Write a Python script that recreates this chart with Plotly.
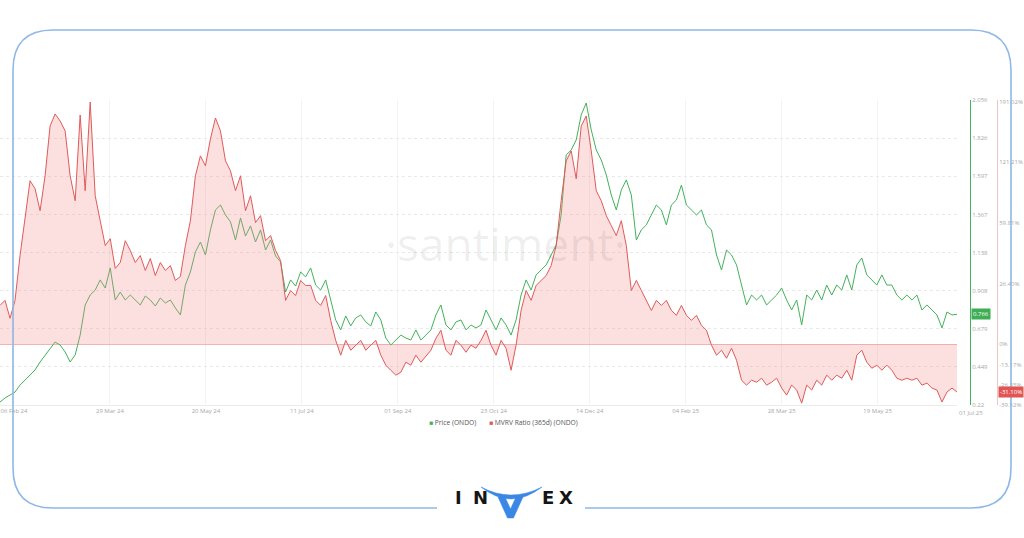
import numpy as np
import pandas as pd
import plotly.graph_objects as go

# ---------------- data ----------------
START_DATE = "2024-01-29 10:00"
END_DATE = "2025-07-01"

PRICE = [
    0.238, 0.262, 0.280, 0.298, 0.340, 0.371, 0.401, 0.431, 0.479, 0.521,
    0.563, 0.599, 0.581, 0.539, 0.479, 0.521, 0.641, 0.822, 0.882, 0.912,
    0.973, 0.924, 1.045, 0.852, 0.900, 0.852, 0.882, 0.852, 0.822, 0.876,
    0.852, 0.816, 0.864, 0.834, 0.852, 0.804, 0.762, 0.942, 1.021, 1.141,
    1.201, 1.123, 1.274, 1.394, 1.424, 1.364, 1.322, 1.213, 1.346, 1.237,
    1.298, 1.201, 1.274, 1.153, 1.213, 1.117, 1.081, 0.900, 0.973, 0.936,
    1.021, 0.991, 1.045, 0.942, 0.912, 0.973, 0.852, 0.732, 0.672, 0.756,
    0.696, 0.744, 0.762, 0.720, 0.696, 0.780, 0.732, 0.623, 0.581, 0.611,
    0.641, 0.623, 0.611, 0.672, 0.611, 0.641, 0.672, 0.762, 0.822, 0.702,
    0.672, 0.720, 0.732, 0.672, 0.702, 0.684, 0.702, 0.792, 0.732, 0.672,
    0.744, 0.702, 0.641, 0.732, 0.882, 0.973, 0.912, 1.003, 1.033, 1.063,
    1.123, 1.183, 1.364, 1.725, 1.755, 1.815, 1.966, 2.038, 1.876, 1.755,
    1.695, 1.605, 1.484, 1.394, 1.514, 1.575, 1.484, 1.213, 1.274, 1.304,
    1.364, 1.424, 1.394, 1.304, 1.424, 1.454, 1.544, 1.424, 1.394, 1.364,
    1.394, 1.304, 1.274, 1.123, 1.033, 1.153, 1.123, 1.063, 0.942, 0.822,
    0.882, 0.852, 0.882, 0.822, 0.852, 0.882, 0.924, 0.852, 0.792, 0.852,
    0.702, 0.882, 0.852, 0.912, 0.852, 0.942, 0.882, 0.942, 0.912, 1.003,
    0.912, 1.063, 1.105, 1.003, 0.973, 0.942, 1.003, 0.942, 0.942, 0.882,
    0.852, 0.882, 0.852, 0.882, 0.792, 0.822, 0.792, 0.762, 0.684, 0.780,
    0.762, 0.766,
]

MVRV_PCT = [
    16.9, 19.1, 11.3, 19.1, 41.8, 67.1, 102.4, 94.3, 72.1, 107.4,
    162.8, 176.6, 168.5, 157.1, 107.4, 82.2, 175.4, 92.3, 190.3, 87.2,
    62.0, 47.3, 51.1, 34.7, 38.0, 50.0, 44.6, 38.0, 41.8, 33.6,
    40.2, 30.8, 38.0, 33.6, 36.3, 28.1, 30.3, 47.3, 62.0, 107.4,
    128.4, 117.5, 147.9, 172.0, 157.1, 122.7, 112.4, 92.3, 107.4, 72.1,
    87.2, 60.0, 67.1, 50.0, 52.8, 44.6, 39.1, 19.1, 23.4, 21.2,
    28.1, 25.6, 25.6, 19.1, 16.9, 21.2, 10.4, 1.7, -7.1, 1.7,
    -3.9, -0.6, 1.7, -3.9, -0.6, 1.7, -7.1, -13.6, -16.9, -20.1,
    -18.2, -11.7, -13.6, -7.1, -11.7, -7.8, -3.9, 2.6, 6.1, -3.9,
    -7.1, 1.7, -0.6, -5.2, -0.6, -2.6, 1.7, 6.1, -0.6, -7.1,
    1.7, -2.6, -16.9, -0.6, 14.7, 23.4, 19.1, 25.6, 28.1, 30.8,
    36.3, 47.3, 82.2, 122.7, 134.2, 104.4, 162.8, 174.3, 134.2, 92.3,
    82.2, 67.1, 58.3, 52.8, 62.0, 47.3, 23.4, 28.1, 23.4, 19.1,
    14.7, 19.1, 16.9, 19.1, 14.7, 12.6, 16.9, 12.6, 10.4, 12.6,
    8.2, 6.1, -0.6, -7.1, -3.9, -9.1, -2.6, -10.4, -23.4, -26.6,
    -23.4, -24.7, -22.1, -26.6, -24.7, -22.1, -28.5, -33.1, -26.6, -29.8,
    -38.3, -26.6, -29.8, -23.4, -26.6, -20.1, -23.4, -20.1, -22.1, -16.9,
    -23.4, -7.1, -3.9, -11.7, -15.6, -13.6, -16.9, -13.6, -16.9, -22.1,
    -23.4, -22.1, -23.4, -22.1, -26.6, -25.3, -28.5, -29.8, -37.6, -31.1,
    -28.5, -31.1,
]

DATES = pd.date_range(START_DATE, END_DATE, periods=len(PRICE))

X_TICK_DATES = ["2024-02-06", "2024-03-29", "2024-05-20", "2024-07-11", "2024-09-01",
                "2024-10-23", "2024-12-14", "2025-02-04", "2025-03-28", "2025-05-19"]
X_TICK_LABELS = ["06 Feb 24", "29 Mar 24", "20 May 24", "11 Jul 24", "01 Sep 24",
                 "23 Oct 24", "14 Dec 24", "04 Feb 25", "28 Mar 25", "19 May 25"]
LAST_DATE_LABEL = "01 Jul 25"

PRICE_TICKS = [0.22, 0.449, 0.679, 0.908, 1.138, 1.367, 1.597, 1.826, 2.056]
PRICE_TICK_LABELS = ["0.22", "0.449", "0.679", "0.908", "1.138", "1.367", "1.597", "1.826", "2.056"]

# MVRV axis uses a non-linear (compressed) scale: tick values and their axis units
MVRV_TICKS_PCT = [-39.52, -26.35, -13.17, 0.0, 26.40, 59.81, 121.21, 191.02]
MVRV_TICK_UNITS = [-3, -2, -1, 0, 3, 6, 9, 12]
MVRV_TICK_LABELS = ["-39.52%", "-26.35%", "-13.17%", "0%", "26.40%", "59.81%", "121.21%", "191.02%"]

# ---------------- styling ----------------
W, H = 1024, 538
PLOT_TOP, PLOT_BOTTOM, PLOT_RIGHT = 100, 405, 957
GREEN = "#43b25a"
RED = "#e05a5a"
BLUE_FRAME = "#8fb8e6"
LOGO_BLUE = "#3a87e6"

mvrv_axis_vals = np.interp(MVRV_PCT, MVRV_TICKS_PCT, MVRV_TICK_UNITS)


def px(x):
    return x / W


def py(y):
    return (PLOT_BOTTOM - y) / (PLOT_BOTTOM - PLOT_TOP)


fig = go.Figure()

fig.add_trace(go.Scatter(
    x=DATES, y=mvrv_axis_vals, yaxis="y2", mode="lines",
    line=dict(color=RED, width=1), fill="tozeroy",
    fillcolor="rgba(246,140,140,0.28)", name="MVRV Ratio (365d) (ONDO)",
    showlegend=False, hoverinfo="skip",
))
fig.add_trace(go.Scatter(
    x=DATES, y=PRICE, yaxis="y", mode="lines",
    line=dict(color=GREEN, width=1), name="Price (ONDO)",
    showlegend=False, hoverinfo="skip",
))

tick_font = dict(family="Open Sans, Arial", size=6, color="#a8a8a8")

fig.update_layout(
    width=W, height=H,
    margin=dict(l=0, r=0, t=PLOT_TOP, b=H - PLOT_BOTTOM),
    paper_bgcolor="white", plot_bgcolor="white",
    hovermode=False,
    xaxis=dict(
        domain=[0, PLOT_RIGHT / W],
        range=[DATES[0], DATES[-1]],
        tickvals=pd.to_datetime(X_TICK_DATES), ticktext=X_TICK_LABELS,
        tickfont=tick_font, ticks="", ticklabeloverflow="allow",
        showgrid=True, gridcolor="#f3f3f3",
        showline=True, linecolor="#ececec", linewidth=1, zeroline=False,
    ),
    yaxis=dict(
        anchor="free", position=970 / W, side="right",
        range=[PRICE_TICKS[0], PRICE_TICKS[-1]],
        tickvals=PRICE_TICKS, ticktext=PRICE_TICK_LABELS,
        tickfont=tick_font, ticks="", ticklabeloverflow="allow",
        showline=True, linecolor=GREEN, linewidth=1,
        showgrid=True, gridcolor="#e9e9e9", griddash="dot", zeroline=False,
    ),
    yaxis2=dict(
        overlaying="y", anchor="free", position=997 / W, side="right",
        range=[-3.0, 12.07],
        tickvals=MVRV_TICK_UNITS, ticktext=MVRV_TICK_LABELS,
        tickfont=tick_font, ticks="", ticklabeloverflow="allow",
        showline=True, linecolor="#eec4c4", linewidth=1,
        showgrid=False, zeroline=True, zerolinecolor="#f0b8b8", zerolinewidth=1,
    ),
)

annotations = []
# watermark
annotations.append(dict(
    text="·santiment·", x=px(505), y=py(243), xref="paper", yref="paper",
    showarrow=False, font=dict(family="Open Sans", size=46, color="rgba(0,0,0,0.07)"),
))
# last date label
annotations.append(dict(
    text=LAST_DATE_LABEL, x=DATES[-1], y=0, xref="x", yref="paper",
    xanchor="left", yanchor="top", yshift=-2, showarrow=False, font=tick_font,
))
# current value badges
annotations.append(dict(
    text=f"{PRICE[-1]:.3f}", x=971 / W, y=PRICE[-1], xref="paper", yref="y",
    xanchor="left", showarrow=False, bgcolor="#3fae55",
    font=dict(family="Open Sans", size=6, color="white"), borderpad=1,
))
annotations.append(dict(
    text=f"{MVRV_PCT[-1]:.2f}%", x=998 / W, y=mvrv_axis_vals[-1], xref="paper", yref="y2",
    xanchor="left", showarrow=False, bgcolor="#e25555",
    font=dict(family="Open Sans", size=6, color="white"), borderpad=1,
))
# legend
annotations.append(dict(
    text=f"<span style='color:{GREEN}'>■</span> Price (ONDO)",
    x=px(427), y=py(429), xref="paper", yref="paper", xanchor="left", showarrow=False,
    font=dict(family="Open Sans", size=6.7, color="#555"),
))
annotations.append(dict(
    text=f"<span style='color:{RED}'>■</span> MVRV Ratio (365d) (ONDO)",
    x=px(487), y=py(429), xref="paper", yref="paper", xanchor="left", showarrow=False,
    font=dict(family="Open Sans", size=6.7, color="#555"),
))
# INVEX letters
for letter, lx in [("I", 458), ("N", 480), ("E", 548), ("X", 566)]:
    annotations.append(dict(
        text=f"<b>{letter}</b>", x=px(lx), y=py(510), xref="paper", yref="paper",
        showarrow=False, font=dict(family="DejaVu Sans", size=18, color="#151515"),
    ))
fig.update_layout(annotations=annotations)


def path_from(points_cmds):
    out = []
    for cmd, *pts in points_cmds:
        coords = " ".join(f"{px(a):.5f},{py(b):.5f}" for a, b in pts)
        out.append(f"{cmd} {coords}")
    return " ".join(out)


L, T, R, B, RAD = 13, 30, 1011, 508, 40
frame = path_from([
    ("M", (437, B)), ("L", (L + RAD, B)), ("Q", (L, B), (L, B - RAD)),
    ("L", (L, T + RAD)), ("Q", (L, T), (L + RAD, T)),
    ("L", (R - RAD, T)), ("Q", (R, T), (R, T + RAD)),
    ("L", (R, B - RAD)), ("Q", (R, B), (R - RAD, B)), ("L", (585, B)),
])
horns = path_from([
    ("M", (481, 487)), ("Q", (511, 511), (542, 487)), ("Q", (511, 503), (481, 487)), ("Z",),
])
vshape = path_from([
    ("M", (498, 497)), ("L", (507.5, 518)), ("L", (513.5, 518)), ("L", (523, 497)),
    ("L", (516, 497)), ("L", (510.5, 509)), ("L", (505, 497)), ("Z",),
])
fig.update_layout(shapes=[
    dict(type="path", path=frame, xref="paper", yref="paper",
         line=dict(color=BLUE_FRAME, width=1.6)),
    dict(type="path", path=horns, xref="paper", yref="paper",
         line=dict(color=LOGO_BLUE, width=0.5), fillcolor=LOGO_BLUE),
    dict(type="path", path=vshape, xref="paper", yref="paper",
         line=dict(color=LOGO_BLUE, width=0.5), fillcolor=LOGO_BLUE),
])

fig.write_html(
    "out.html",
    config={"displayModeBar": False, "staticPlot": True},
    post_script="document.body.style.margin='0';document.body.style.overflow='hidden';",
)
